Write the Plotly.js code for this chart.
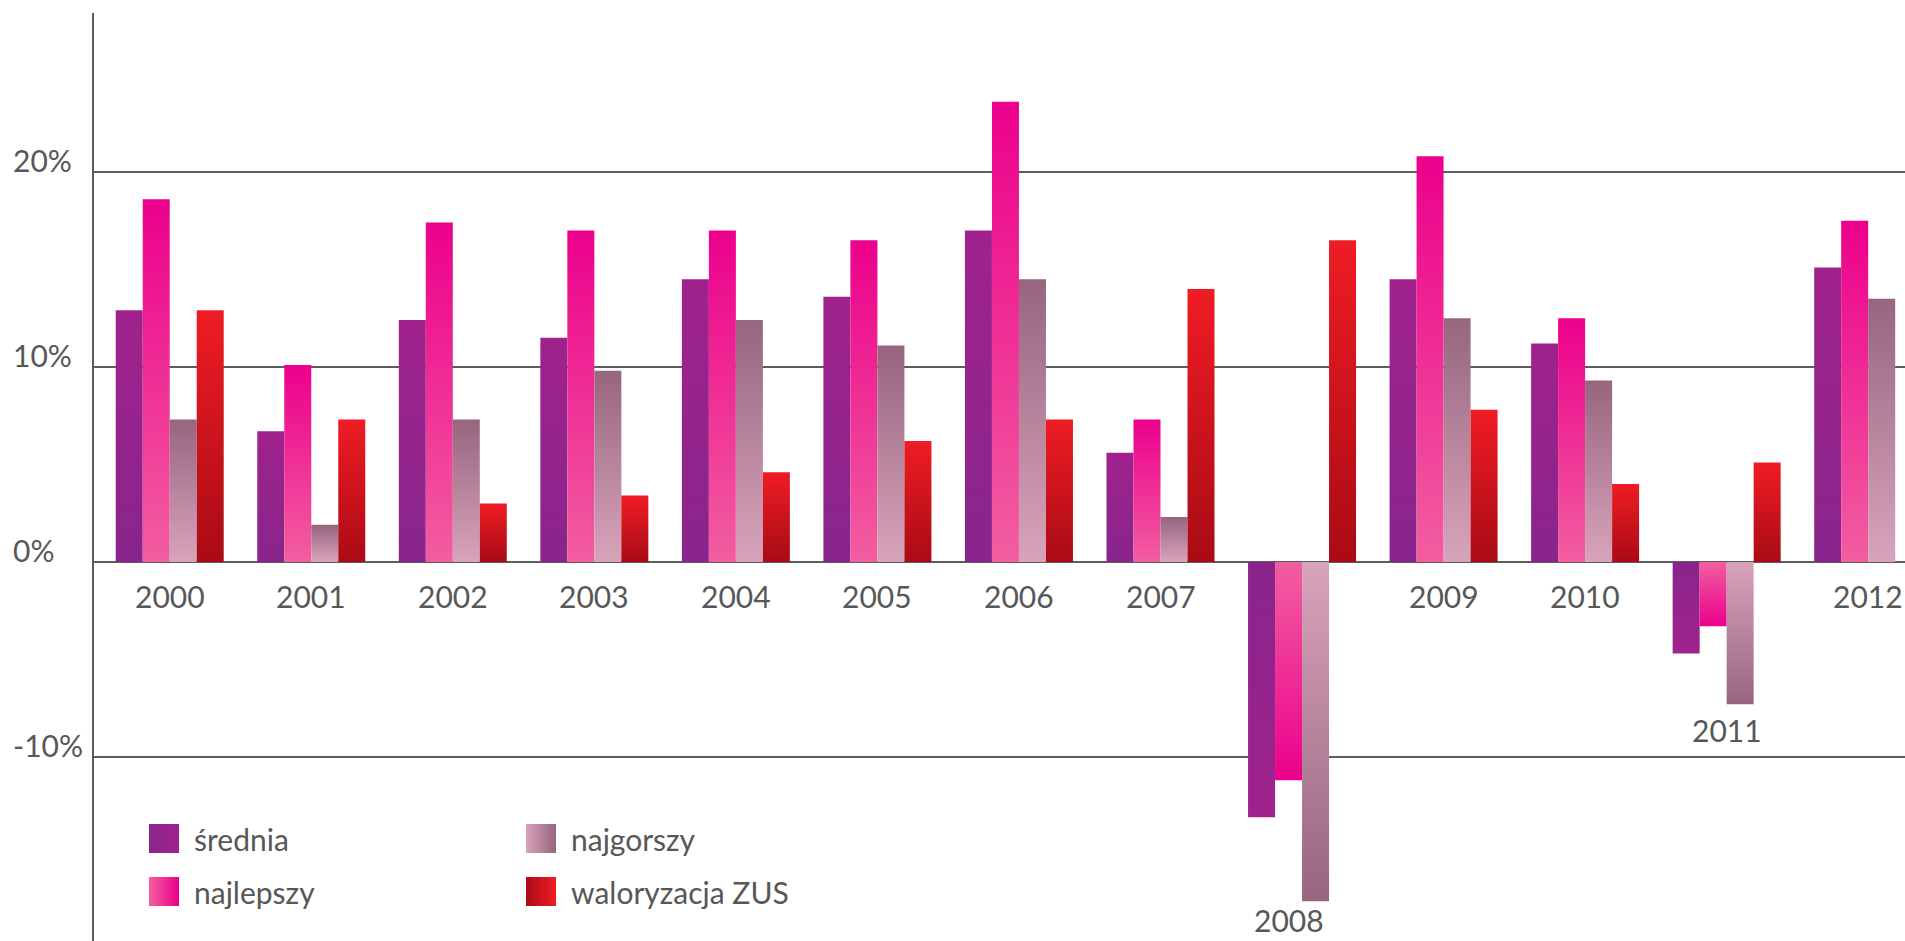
<!DOCTYPE html>
<html>
<head>
<meta charset="utf-8">
<script src="https://cdn.plot.ly/plotly-3.0.1.min.js"></script>
<style>
  html, body { margin: 0; padding: 0; background: #ffffff; }
  #chart { width: 1905px; height: 941px; }
  #gradDefs { position: absolute; width: 0; height: 0; overflow: hidden; }
</style>
</head>
<body>
<div id="gradDefs"></div>
<div id="chart"></div>
<script>
// ---- data ----
const years = ['2000','2001','2002','2003','2004','2005','2006','2007','2008','2009','2010','2011','2012'];
const seriesNames = ['średnia', 'najlepszy', 'najgorszy', 'waloryzacja ZUS'];
const srednia   = [12.9, 6.7, 12.4, 11.5, 14.5, 13.6, 17.0, 5.6, -13.1, 14.5, 11.2, -4.7, 15.1];
const najlepszy = [18.6, 10.1, 17.4, 17.0, 17.0, 16.5, 23.6, 7.3, -11.2, 20.8, 12.5, -3.3, 17.5];
const najgorszy = [7.3, 1.9, 7.3, 9.8, 12.4, 11.1, 14.5, 2.3, -17.4, 12.5, 9.3, -7.3, 13.5];
const zus       = [12.9, 7.3, 3.0, 3.4, 4.6, 6.2, 7.3, 14.0, 16.5, 7.8, 4.0, 5.1, null];
const yTickValues = [20, 10, 0, -10];
const yTickLabels = ['20%', '10%', '0%', '-10%'];

// ---- styling ----
const seriesValues = [srednia, najlepszy, najgorszy, zus];
// [tip colour, base colour]
const gradColors = [
  ['#a0228c', '#88258c'],
  ['#ec008c', '#f25ea0'],
  ['#97657e', '#d8a4bc'],
  ['#ef1c24', '#a90b15']
];
const textColor = '#575757';
const lineColor = '#5d5d5d';
const fontFamily = 'Lato, "Open Sans", sans-serif';

// gradient definitions
let defs = '';
gradColors.forEach((c, i) => {
  defs += `<linearGradient id="g${i}p" x1="0" y1="0" x2="0" y2="1"><stop offset="0" stop-color="${c[0]}"/><stop offset="1" stop-color="${c[1]}"/></linearGradient>`;
  defs += `<linearGradient id="g${i}n" x1="0" y1="0" x2="0" y2="1"><stop offset="0" stop-color="${c[1]}"/><stop offset="1" stop-color="${c[0]}"/></linearGradient>`;
  defs += `<linearGradient id="g${i}l" x1="0" y1="0" x2="1" y2="0"><stop offset="0" stop-color="${c[1]}"/><stop offset="1" stop-color="${c[0]}"/></linearGradient>`;
});
document.getElementById('gradDefs').innerHTML =
  `<svg width="0" height="0" xmlns="http://www.w3.org/2000/svg"><defs>${defs}</defs></svg>`;

const traces = seriesValues.map((vals, i) => ({
  type: 'bar',
  name: seriesNames[i],
  x: years,
  y: vals,
  marker: { color: gradColors[i][0], line: { width: 0 } },
  hoverinfo: 'x+y+name',
  showlegend: false
}));

const W = 1905, H = 941, ML = 94, MT = 13;
const PW = W - ML, PH = H - MT;
const px2paperX = px => (px - ML) / PW;
const px2paperY = py => (H - py) / PH;

const annotations = [];
// y tick labels (left aligned)
yTickValues.forEach((v, i) => {
  annotations.push({
    xref: 'paper', yref: 'y', x: px2paperX(11), y: v,
    xanchor: 'left', yanchor: 'bottom', yshift: -8,
    text: yTickLabels[i], showarrow: false,
    font: { family: fontFamily, size: 30, color: textColor }
  });
});
// year labels: under zero line, or under the lowest bar for negative years
const labelShift = { '2008': { x: -13, y: 0 } };
years.forEach((yr, k) => {
  const vals = seriesValues.map(s => s[k]).filter(v => v !== null);
  const low = Math.min(0, ...vals);
  const sh = labelShift[yr] || {};
  annotations.push({
    xref: 'x', yref: 'y', x: k, y: low,
    xanchor: 'center', yanchor: 'top',
    yshift: sh.y !== undefined ? sh.y : (low < 0 ? -7 : -15),
    xshift: sh.x || 0,
    borderpad: 0,
    text: yr, showarrow: false,
    font: { family: fontFamily, size: 30, color: textColor }
  });
});

// custom legend: 2 columns x 2 rows
const legendCols = [149, 526];
const legendRows = [824, 877];
const sq = 29;
const shapes = [];
seriesNames.forEach((nm, i) => {
  const col = Math.floor(i / 2), row = i % 2;
  const x0 = legendCols[col], y0 = legendRows[row];
  shapes.push({
    type: 'rect', xref: 'paper', yref: 'paper', layer: 'above',
    x0: px2paperX(x0), x1: px2paperX(x0 + sq + 1),
    y0: px2paperY(y0 + sq), y1: px2paperY(y0),
    fillcolor: gradColors[i][0], line: { width: 0 }
  });
  annotations.push({
    xref: 'paper', yref: 'paper',
    x: px2paperX(x0 + sq + 14), y: px2paperY(y0 + sq / 2),
    xanchor: 'left', yanchor: 'middle',
    text: nm, showarrow: false,
    font: { family: fontFamily, size: 30, color: textColor }
  });
});

const layout = {
  width: W, height: H,
  margin: { l: ML, r: 0, t: MT, b: 0, pad: 0 },
  paper_bgcolor: '#ffffff', plot_bgcolor: '#ffffff',
  barmode: 'group', bargap: 0.237, bargroupgap: 0,
  showlegend: false,
  font: { family: fontFamily, color: textColor },
  xaxis: {
    type: 'category', range: [-0.535, 12.26],
    showgrid: false, zeroline: false, showline: false,
    showticklabels: false, ticks: '', fixedrange: true
  },
  yaxis: {
    range: [-19.44, 28.15], tick0: 0, dtick: 10,
    showgrid: true, gridcolor: lineColor, gridwidth: 1.6,
    zeroline: true, zerolinecolor: lineColor, zerolinewidth: 1.6,
    showline: true, linecolor: lineColor, linewidth: 2,
    showticklabels: false, ticks: '', fixedrange: true
  },
  annotations: annotations,
  shapes: shapes
};

function applyGradients(gd) {
  gd.querySelectorAll('.barlayer .trace.bars').forEach((tr, i) => {
    tr.querySelectorAll('.point path').forEach(p => {
      const d = p.getAttribute('d');
      if (!d) return;
      const nums = (d.match(/-?\d+(\.\d+)?(e-?\d+)?/g) || []).map(Number);
      if (nums.length < 3) return;
      const pos = nums[2] <= nums[1];
      p.style.fill = `url(#g${i}${pos ? 'p' : 'n'})`;
    });
  });
  gd.querySelectorAll('.shapelayer path[data-index]').forEach(p => {
    const idx = +p.getAttribute('data-index');
    if (idx >= 0 && idx < gradColors.length) p.style.fill = `url(#g${idx}l)`;
  });
}

const gd = document.getElementById('chart');
Plotly.newPlot(gd, traces, layout, { displayModeBar: false, responsive: false, staticPlot: true })
  .then(() => applyGradients(gd));
</script>
</body>
</html>
